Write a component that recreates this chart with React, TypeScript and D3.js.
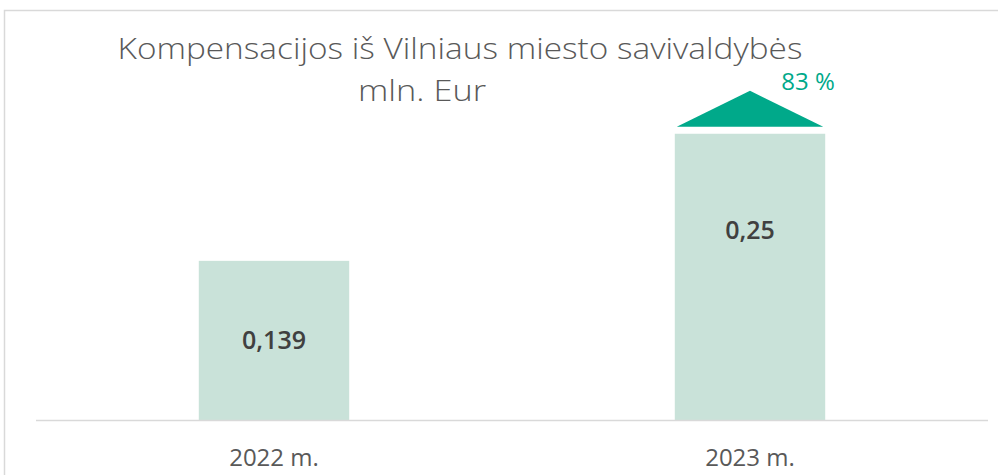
import React from "react";
import * as d3 from "d3";

const categories = ["2022 m.", "2023 m."];
const values = [0.139, 0.25];
const valueLabels = ["0,139", "0,25"];
const changeLabel = "83 %";
const titleLines = ["Kompensacijos iš Vilniaus miesto savivaldybės", "mln. Eur"];

// label anchor, as a fraction of each bar's height (layout only)
const labelAnchor = [0.5, 0.665];

const W = 998;
const H = 475;

export default function App() {
  const x = d3.scaleBand<string>().domain(categories).range([36, 988]).paddingInner(0.684).paddingOuter(0.342);
  const y = d3.scaleLinear().domain([0, 0.3]).range([420, 76.5]);
  const bw = x.bandwidth();
  const last = categories[categories.length - 1];
  const lx = x(last)!;
  const ly = y(values[values.length - 1]);
  const tri = d3.path();
  tri.moveTo(lx + 2, ly - 7);
  tri.lineTo(lx + bw / 2, ly - 43);
  tri.lineTo(lx + bw - 2, ly - 7);
  tri.closePath();
  const font = "'Open Sans', 'Noto Sans', sans-serif";
  return (
    <svg width={W} height={H} style={{ position: "absolute", left: 0, top: 0, background: "#fff" }}>
      <rect x={4.5} y={10.5} width={1000} height={500} fill="#fff" stroke="#d9d9d9" strokeWidth={1.5} />
      <text x={460} y={59} textAnchor="middle" fontFamily={font} fontWeight={300} fontSize={29} fill="#595959" textLength={685} lengthAdjust="spacingAndGlyphs">{titleLines[0]}</text>
      <text x={422} y={101} textAnchor="middle" fontFamily={font} fontWeight={300} fontSize={29} fill="#595959" textLength={128} lengthAdjust="spacingAndGlyphs">{titleLines[1]}</text>
      {categories.map((c, i) => (
        <g key={c}>
          <rect x={x(c)} y={y(values[i])} width={bw} height={y(0) - y(values[i])} fill="#c9e2d9" />
          <text x={x(c)! + bw / 2} y={y(values[i] * labelAnchor[i]) + 9} textAnchor="middle" fontFamily={font} fontWeight={600} fontSize={25} fill="#404040">{valueLabels[i]}</text>
          <text x={x(c)! + bw / 2} y={466} textAnchor="middle" fontFamily={font} fontSize={24} fill="#595959">{c}</text>
        </g>
      ))}
      <line x1={36} x2={988} y1={420.5} y2={420.5} stroke="#d9d9d9" strokeWidth={1.5} />
      <path d={tri.toString()} fill="#00a98a" />
      <text x={808} y={90} textAnchor="middle" fontFamily={font} fontWeight={500} fontSize={24} fill="#00a98a">{changeLabel}</text>
    </svg>
  );
}
